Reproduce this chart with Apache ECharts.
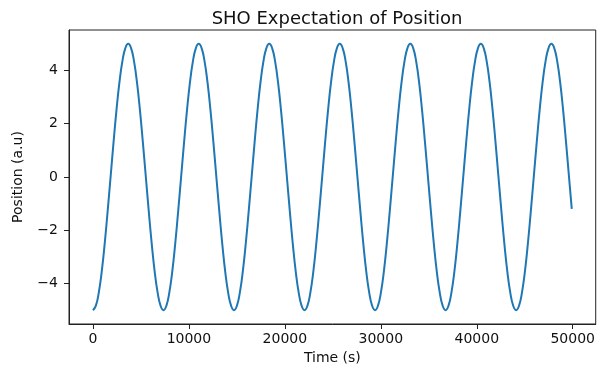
<!DOCTYPE html>
<html>
<head>
<meta charset="utf-8">
<script src="https://cdn.jsdelivr.net/npm/echarts@6/dist/echarts.min.js"></script>
<style>
html,body{margin:0;padding:0;background:#fff;}
#chart{width:598px;height:370px;}
</style>
</head>
<body>
<div id="chart"></div>
<script>
// Time samples (s)
var times = [0,306,612,919,1225,1531,1838,2144,2450,2756,3062,3369,3675,3981,4288,4594,4900,5206,5512,5819,6125,6431,6738,7044,
7350,7656,7962,8269,8575,8881,9188,9494,9800,10106,10412,10719,11025,11331,11638,11944,12250,12556,12862,13169,13475,13781,14088,14394,
14700,15006,15312,15619,15925,16231,16538,16844,17150,17456,17762,18069,18375,18681,18988,19294,19600,19906,20212,20519,20825,21131,21438,21744,
22050,22356,22662,22969,23275,23581,23888,24194,24500,24806,25112,25419,25725,26031,26338,26644,26950,27256,27562,27869,28175,28481,28788,29094,
29400,29706,30012,30319,30625,30931,31238,31544,31850,32156,32462,32769,33075,33381,33688,33994,34300,34606,34912,35219,35525,35831,36138,36444,
36750,37056,37362,37669,37975,38281,38588,38894,39200,39506,39812,40119,40425,40731,41038,41344,41650,41956,42262,42569,42875,43181,43488,43794,
44100,44406,44712,45019,45325,45631,45938,46244,46550,46856,47162,47469,47775,48081,48388,48694,49000,49306,49612,49900];

// Position expectation values (a.u)
var positions = [-5,-4.83,-4.33,-3.54,-2.5,-1.29,0,1.29,2.5,3.54,4.33,4.83,5,4.83,4.33,3.54,2.5,1.29,0,-1.29,-2.5,-3.54,-4.33,-4.83,
-5,-4.83,-4.33,-3.54,-2.5,-1.29,0,1.29,2.5,3.54,4.33,4.83,5,4.83,4.33,3.54,2.5,1.29,0,-1.29,-2.5,-3.54,-4.33,-4.83,
-5,-4.83,-4.33,-3.54,-2.5,-1.29,0,1.29,2.5,3.54,4.33,4.83,5,4.83,4.33,3.54,2.5,1.29,0,-1.29,-2.5,-3.54,-4.33,-4.83,
-5,-4.83,-4.33,-3.54,-2.5,-1.29,0,1.29,2.5,3.54,4.33,4.83,5,4.83,4.33,3.54,2.5,1.29,0,-1.29,-2.5,-3.54,-4.33,-4.83,
-5,-4.83,-4.33,-3.54,-2.5,-1.29,0,1.29,2.5,3.54,4.33,4.83,5,4.83,4.33,3.54,2.5,1.29,0,-1.29,-2.5,-3.54,-4.33,-4.83,
-5,-4.83,-4.33,-3.54,-2.5,-1.29,0,1.29,2.5,3.54,4.33,4.83,5,4.83,4.33,3.54,2.5,1.29,0,-1.29,-2.5,-3.54,-4.33,-4.83,
-5,-4.83,-4.33,-3.54,-2.5,-1.29,0,1.29,2.5,3.54,4.33,4.83,5,4.83,4.33,3.54,2.5,1.29,0,-1.2];

var xTicks = [0,10000,20000,30000,40000,50000];
var yTicks = [-4,-2,0,2,4];

var titleText = 'SHO Expectation of Position';
var xName = 'Time (s)';
var yName = 'Position (a.u)';

var seriesData = times.map(function(t,i){ return [t, positions[i]]; });

var FONT = 'DejaVu Sans';
var chart = echarts.init(document.getElementById('chart'), null, {renderer:'canvas'});
chart.setOption({
  animation:false,
  backgroundColor:'#fff',
  title:{
    text:titleText,
    left:332, top:5, textAlign:'center',
    textStyle:{fontFamily:FONT,fontSize:18,fontWeight:'normal',color:'#111'}
  },
  grid:{left:69,right:2,top:30,bottom:43,show:true,borderColor:'#222',borderWidth:1,backgroundColor:'transparent'},
  xAxis:{
    type:'value', min:-2495, max:52395,
    name:xName, nameLocation:'middle', nameGap:27,
    nameTextStyle:{fontFamily:FONT,fontSize:14,color:'#111'},
    axisLine:{show:true,onZero:false,lineStyle:{color:'#222',width:1}},
    axisTick:{show:true,length:5,lineStyle:{color:'#222'},customValues:xTicks},
    axisLabel:{fontFamily:FONT,fontSize:14,color:'#111',margin:8,customValues:xTicks,
      formatter:function(v){ return String(v); }},
    splitLine:{show:false}
  },
  yAxis:{
    type:'value', min:-5.52, max:5.52,
    name:yName, nameLocation:'middle', nameGap:44,
    nameTextStyle:{fontFamily:FONT,fontSize:14,color:'#111'},
    axisLine:{show:true,onZero:false,lineStyle:{color:'#222',width:1}},
    axisTick:{show:true,length:5,lineStyle:{color:'#222'},customValues:yTicks},
    axisLabel:{fontFamily:FONT,fontSize:14,color:'#111',margin:11,customValues:yTicks,
      formatter:function(v){ return v<0 ? '\u2212'+Math.abs(v) : String(v); }},
    splitLine:{show:false}
  },
  series:[{
    type:'line', data:seriesData, smooth:true, showSymbol:false,
    lineStyle:{color:'#1f77b4',width:2}, itemStyle:{color:'#1f77b4'}
  }]
});
</script>
</body>
</html>
